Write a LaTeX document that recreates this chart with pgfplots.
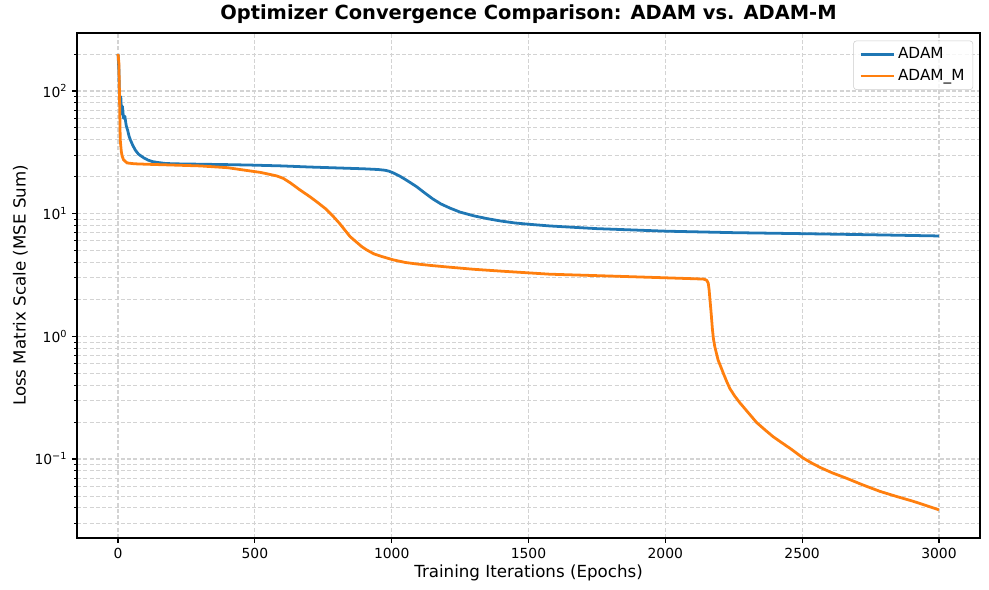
\documentclass[border=0pt]{standalone}
\usepackage{pgfplots}
\pgfplotsset{compat=1.18}
\usepackage{fontspec}
\setmainfont{DejaVu Sans}
\definecolor{mplblue}{HTML}{1F77B4}
\definecolor{mplorange}{HTML}{FF7F0E}
\definecolor{gridgray}{HTML}{D3D3D3}
\begin{document}
\begin{tikzpicture}
\path[use as bounding box] (-55.44pt,-37.44pt) rectangle (656.64pt,387.36pt);
\begin{axis}[
  at={(0,0)}, anchor=south west,
  scale only axis,
  width=650.16pt, height=363.6pt,
  ymode=log,
  xmin=-150, xmax=3150,
  ymin=0.0227, ymax=297,
  xtick={0,500,1000,1500,2000,2500,3000},
  xticklabels={0,500,1000,1500,2000,2500,3000},
  ytick={0.1,1,10,100},
  yticklabels={10\textsuperscript{−1},10\textsuperscript{0},10\textsuperscript{1},10\textsuperscript{2}},
  minor ytick={0.03,0.04,0.05,0.06,0.07,0.08,0.09,0.2,0.3,0.4,0.5,0.6,0.7,0.8,0.9,2,3,4,5,6,7,8,9,20,30,40,50,60,70,80,90,200},
  grid=both,
  major grid style={draw=gridgray, dashed, line width=0.8pt, dash pattern=on 3pt off 1.5pt},
  minor grid style={draw=gridgray, dashed, line width=0.6pt, dash pattern=on 3pt off 1.5pt},
  tick align=outside,
  major tick length=3.5pt,
  minor tick length=2pt,
  every tick/.style={black, line width=0.8pt},
  minor tick style={black, line width=0.6pt},
  xtick pos=bottom, ytick pos=left,
  axis line style={black, line width=0.8pt},
  tick label style={font=\fontsize{10}{12}\selectfont},
  xlabel={Training Iterations (Epochs)},
  ylabel={Loss Matrix Scale (MSE Sum)},
  label style={font=\fontsize{12}{14}\selectfont},
  xlabel style={yshift=2pt},
  ylabel style={yshift=-2pt},
  title={\textbf{Optimizer Convergence Comparison: ADAM vs. ADAM-M}},
  title style={font=\fontsize{14}{16}\selectfont, yshift=-3pt},
  legend cell align=left,
  legend style={at={(1,1)}, anchor=north east, xshift=-5pt, yshift=-5.5pt,
    draw=gray!40, rounded corners=2pt, fill=white, fill opacity=0.8, text opacity=1,
    font=\fontsize{11}{13}\selectfont, inner xsep=4pt, inner ysep=3pt, row sep=2pt},
  legend image code/.code={\draw[#1] (0pt,0pt) -- (24pt,0pt);},
]
\addplot[mplblue, line width=2pt, line join=round] coordinates {
(0,200)(3,150)(5,95)(8,75)(10,90)(13,65)(16,75)(20,60)(25,62)(30,52)(35,48)(40,43)(45,40)(54,36)(63,33)(75,30.5)(94,28.5)(110,27.3)(125,26.6)(142,26.2)(170,25.7)(200,25.5)(300,25.3)(400,25.1)(482,24.9)(600,24.5)(700,24)(800,23.6)(900,23.2)(950,22.9)(975,22.6)(990,22.2)(1006,21.5)(1030,20.2)(1050,19.0)(1070,17.8)(1091,16.6)(1120,14.8)(1150,13.2)(1180,12.0)(1213,11.1)(1250,10.3)(1300,9.6)(1350,9.1)(1400,8.7)(1450,8.4)(1500,8.2)(1578,7.94)(1750,7.55)(2000,7.2)(2250,7.0)(2500,6.87)(2750,6.73)(3000,6.58)
};
\addlegendentry{ADAM}
\addplot[mplorange, line width=2pt, line join=round] coordinates {
(0,200)(3,170)(5,100)(8,40)(12,32)(15,29.5)(20,27.5)(33,25.9)(60,25.5)(100,25.3)(300,24.5)(400,23.7)(482,22.3)(520,21.7)(550,21.0)(580,20.3)(604,19.4)(630,17.8)(665,15.6)(700,13.8)(726,12.5)(760,10.9)(787,9.47)(810,8.3)(830,7.3)(848,6.5)(870,5.9)(890,5.4)(909,5.06)(935,4.7)(960,4.5)(1006,4.2)(1050,4.0)(1091,3.89)(1150,3.77)(1213,3.66)(1300,3.52)(1400,3.4)(1578,3.21)(1800,3.1)(2000,3.0)(2100,2.95)(2138,2.93)(2146,2.9)(2152,2.85)(2157,2.7)(2160,2.4)(2164,1.9)(2168,1.5)(2172,1.15)(2176,0.95)(2181,0.82)(2186,0.74)(2193,0.64)(2202,0.57)(2212,0.5)(2224,0.43)(2236,0.375)(2254,0.325)(2272,0.288)(2300,0.243)(2334,0.198)(2364,0.173)(2394,0.152)(2425,0.136)(2455,0.1225)(2480,0.1115)(2503,0.102)(2535,0.0927)(2565,0.0855)(2610,0.0771)(2662,0.0697)(2720,0.0617)(2784,0.0545)(2845,0.0495)(2906,0.0452)(2950,0.042)(3000,0.0385)
};
\addlegendentry{ADAM\_M}
\end{axis}
\end{tikzpicture}
\end{document}
